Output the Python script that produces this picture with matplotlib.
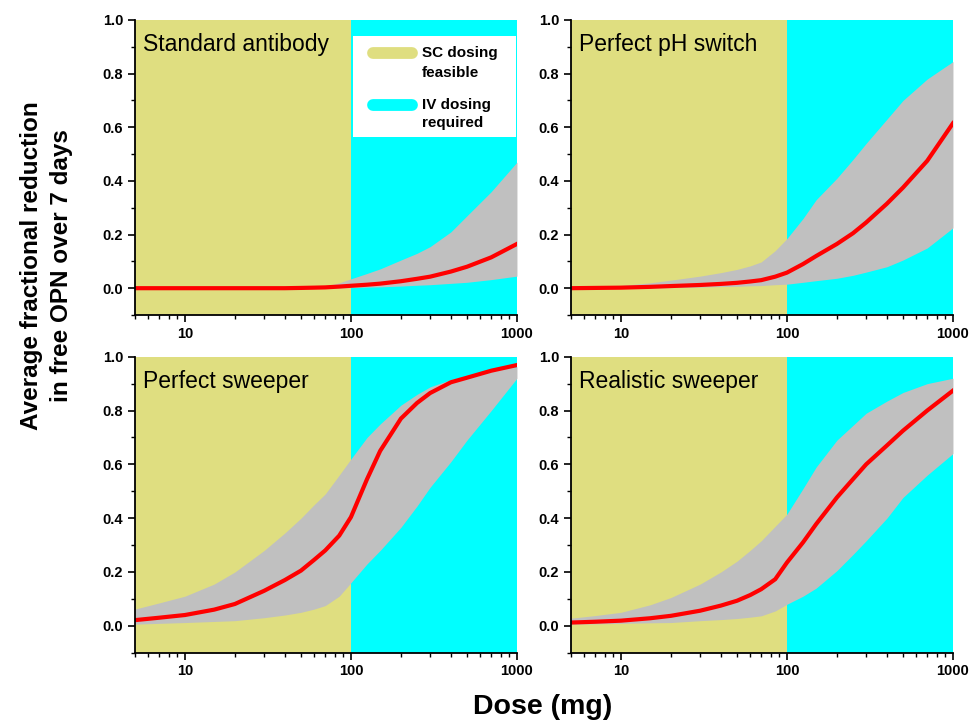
import numpy as np
import matplotlib
matplotlib.use('Agg')
from matplotlib import pyplot as plt
from matplotlib.lines import Line2D
from matplotlib.patches import Rectangle
from matplotlib.ticker import FixedLocator, NullFormatter, MultipleLocator, FormatStrFormatter

plt.rcParams['font.family'] = ['Liberation Sans', 'DejaVu Sans']

# dose grid (mg)
dose = [5, 7, 10, 15, 20, 30, 40, 50, 60, 70, 85, 100, 125, 150, 200, 250, 300, 400, 500, 700, 1000]

titles = ['Standard antibody', 'Perfect pH switch', 'Perfect sweeper', 'Realistic sweeper']

# median / upper / lower of the fractional reduction
std_mid = [0, 0, 0, 0, 0, 0, 0, 0.001, 0.002, 0.003, 0.006, 0.009, 0.013, 0.017, 0.026, 0.035, 0.043, 0.062, 0.08, 0.115, 0.165]
std_hi = [0, 0, 0, 0, 0, 0, 0, 0.001, 0.004, 0.008, 0.02, 0.035, 0.055, 0.072, 0.105, 0.13, 0.155, 0.21, 0.27, 0.36, 0.47]
std_lo = [0, 0, 0, 0, 0, 0, 0, 0, 0, 0, 0.001, 0.002, 0.004, 0.005, 0.008, 0.011, 0.013, 0.018, 0.022, 0.032, 0.045]

ph_mid = [0, 0.001, 0.002, 0.005, 0.008, 0.012, 0.016, 0.02, 0.025, 0.03, 0.043, 0.058, 0.09, 0.12, 0.165, 0.205, 0.245, 0.315, 0.375, 0.475, 0.615]
ph_hi = [0.002, 0.005, 0.01, 0.02, 0.03, 0.045, 0.058, 0.07, 0.083, 0.098, 0.14, 0.185, 0.26, 0.33, 0.41, 0.48, 0.54, 0.63, 0.70, 0.78, 0.845]
ph_lo = [0, 0, 0, 0.001, 0.002, 0.004, 0.006, 0.007, 0.009, 0.01, 0.013, 0.015, 0.022, 0.028, 0.037, 0.048, 0.06, 0.08, 0.105, 0.15, 0.225]

psw_mid = [0.021, 0.03, 0.04, 0.06, 0.081, 0.13, 0.17, 0.205, 0.245, 0.28, 0.335, 0.404, 0.545, 0.65, 0.77, 0.828, 0.865, 0.905, 0.922, 0.948, 0.969]
psw_hi = [0.062, 0.085, 0.11, 0.155, 0.2, 0.28, 0.345, 0.40, 0.45, 0.49, 0.56, 0.62, 0.70, 0.75, 0.82, 0.86, 0.888, 0.915, 0.93, 0.95, 0.963]
psw_lo = [0.006, 0.009, 0.012, 0.016, 0.019, 0.03, 0.04, 0.05, 0.062, 0.075, 0.11, 0.16, 0.23, 0.28, 0.366, 0.445, 0.515, 0.61, 0.69, 0.80, 0.92]

rsw_mid = [0.012, 0.015, 0.019, 0.028, 0.037, 0.056, 0.075, 0.093, 0.114, 0.136, 0.173, 0.235, 0.31, 0.378, 0.477, 0.545, 0.60, 0.67, 0.725, 0.80, 0.874]
rsw_hi = [0.028, 0.038, 0.05, 0.078, 0.105, 0.155, 0.20, 0.24, 0.28, 0.316, 0.37, 0.415, 0.51, 0.59, 0.69, 0.745, 0.79, 0.835, 0.867, 0.90, 0.92]
rsw_lo = [0.006, 0.007, 0.009, 0.011, 0.012, 0.019, 0.023, 0.027, 0.032, 0.037, 0.055, 0.08, 0.11, 0.14, 0.205, 0.265, 0.316, 0.40, 0.477, 0.56, 0.64]

panels = [(std_mid, std_hi, std_lo), (ph_mid, ph_hi, ph_lo),
          (psw_mid, psw_hi, psw_lo), (rsw_mid, rsw_hi, rsw_lo)]

legend_labels = [('SC dosing', 'feasible'), ('IV dosing', 'required')]

sc_color = '#DFDE80'
iv_color = '#00FFFF'
band_color = '#C0C0C0'

fig = plt.figure(figsize=(9.73, 7.24), dpi=100)
rects = [[0.1387, 0.5649, 0.3926, 0.4075], [0.5868, 0.5649, 0.3926, 0.4075],
         [0.1387, 0.0985, 0.3926, 0.4088], [0.5868, 0.0985, 0.3926, 0.4088]]

for i, (rect, (mid, hi, lo)) in enumerate(zip(rects, panels)):
    ax = fig.add_axes(rect)
    ax.set_xscale('log')
    ax.set_xlim(5, 1000)
    ax.set_ylim(-0.1, 1.0)
    ax.axvspan(5, 100, color=sc_color, lw=0, zorder=0)
    ax.axvspan(100, 1000, color=iv_color, lw=0, zorder=0)
    ax.fill_between(dose, lo, hi, color=band_color, lw=0, zorder=1)
    ax.plot(dose, mid, color='#FF0000', lw=3, zorder=2)

    for s in ['top', 'right']:
        ax.spines[s].set_visible(False)
    for s in ['left', 'bottom']:
        ax.spines[s].set_linewidth(1.3)
        ax.spines[s].set_zorder(3)

    ax.xaxis.set_major_locator(FixedLocator([10, 100, 1000]))
    ax.xaxis.set_major_formatter(FormatStrFormatter('%d'))
    minors = [5, 6, 7, 8, 9] + [20, 30, 40, 50, 60, 70, 80, 90] + [200, 300, 400, 500, 600, 700, 800, 900]
    ax.xaxis.set_minor_locator(FixedLocator(minors))
    ax.xaxis.set_minor_formatter(NullFormatter())
    ax.yaxis.set_major_locator(FixedLocator([0.0, 0.2, 0.4, 0.6, 0.8, 1.0]))
    ax.yaxis.set_major_formatter(FormatStrFormatter('%.1f'))
    ax.yaxis.set_minor_locator(MultipleLocator(0.1))
    ax.tick_params(which='major', direction='out', length=5, width=1.2, labelsize=10.5)
    ax.tick_params(which='minor', direction='out', length=3, width=1.0)
    for lab in ax.get_xticklabels() + ax.get_yticklabels():
        lab.set_fontweight('bold')

    ax.text(0.02, 0.955, titles[i], transform=ax.transAxes, fontsize=16.5,
            ha='left', va='top', zorder=4)

    if i == 0:
        # legend box drawn by hand (swatch lines up with the first text line)
        ax.add_patch(Rectangle((0.571, 0.603), 0.427, 0.343, transform=ax.transAxes,
                               facecolor='white', edgecolor='none', zorder=4))
        for col, (l1, l2), y1, y2 in [(sc_color, legend_labels[0], 0.888, 0.820),
                                      (iv_color, legend_labels[1], 0.712, 0.652)]:
            ax.add_line(Line2D([0.623, 0.725], [y1, y1], transform=ax.transAxes,
                               color=col, lw=8.5, solid_capstyle='round', zorder=5))
            ax.text(0.751, y1, l1, transform=ax.transAxes, fontsize=11,
                    fontweight='bold', ha='left', va='center', zorder=5)
            ax.text(0.751, y2, l2, transform=ax.transAxes, fontsize=11,
                    fontweight='bold', ha='left', va='center', zorder=5)

fig.text(0.0478, 0.633, 'Average fractional reduction\nin free OPN over 7 days',
         rotation=90, ha='center', va='center', fontsize=17.5, fontweight='bold',
         linespacing=1.35)
fig.text(0.558, 0.0235, 'Dose (mg)', ha='center', va='center', fontsize=20.5,
         fontweight='bold')

fig.savefig('out.png', dpi=100)
